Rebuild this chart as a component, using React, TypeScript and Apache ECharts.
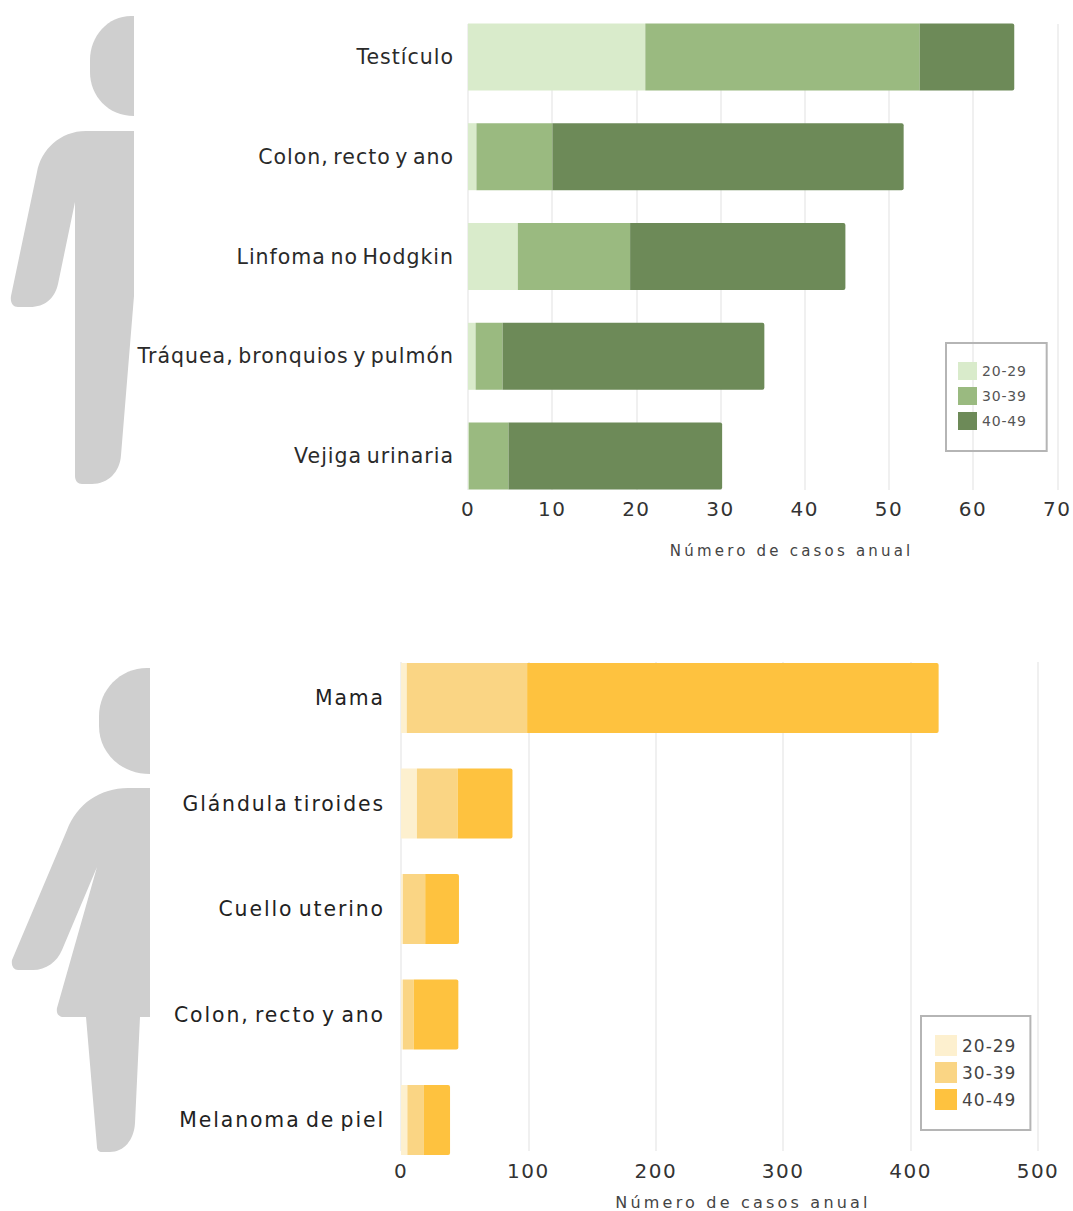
import React, { useEffect, useRef } from "react";
import * as echarts from "echarts";

const ageGroups = ["20-29", "30-39", "40-49"];

const menCategories = ["Testículo", "Colon, recto y ano", "Linfoma no Hodgkin", "Tráquea, bronquios y pulmón", "Vejiga urinaria"];
const men2029 = [21, 1, 5.9, 0.9, 0.1];
const men3039 = [32.5, 9, 13.3, 3.2, 4.7];
const men4049 = [11.2, 41.6, 25.5, 31, 25.3];
const menColors = ["#d9ebcb", "#9aba80", "#6d8a58"];

const womenCategories = ["Mama", "Glándula tiroides", "Cuello uterino", "Colon, recto y ano", "Melanoma de piel"];
const women2029 = [4.5, 12.5, 1.5, 1.5, 5];
const women3039 = [94.5, 32, 17.5, 8.5, 13];
const women4049 = [323, 43, 26.5, 35, 20.5];
const womenColors = ["#fdf0cf", "#fad584", "#fec23f"];

const axisTitle = "Número de casos anual";
const FONT = "'DejaVu Sans', sans-serif";
const GREY = "#cfcfcf";

const manHead = "M134 16 L131 16 C108 16 90 36 90 60 L90 72 C90 96 108 116 134 116 Z";
const manBody = "M134 131 L86 131 C60 131 41 150 37 172 L11 296 C10 303 13 307 18 307 L30 307 C45 307 55 298 58 284 L75 202 L75 476 C75 481 78 484 82 484 L92 484 C108 484 120 472 121 455 L134 296 Z";
const womanHead = "M150 668 L147 668 C120 668 99 690 99 716 L99 726 C99 752 120 774 150 774 Z";
const womanBody = "M150 788 L128 788 C100 788 77 804 67 830 L12 960 C11 966 14 970 18 970 L33 970 C46 970 57 962 62 950 L97 867 L57 1008 C56 1014 59 1017 64 1017 L86 1017 L97 1147 C97 1150 99 1152 102 1152 L110 1152 C124 1152 134 1140 135 1123 L140 1017 L150 1017 Z";

echarts.graphic.registerShape("manHead", echarts.graphic.extendPath(manHead, {}));
echarts.graphic.registerShape("manBody", echarts.graphic.extendPath(manBody, {}));
echarts.graphic.registerShape("womanHead", echarts.graphic.extendPath(womanHead, {}));
echarts.graphic.registerShape("womanBody", echarts.graphic.extendPath(womanBody, {}));

// The reference type is wider than any installed face, so each text role carries its own tracking.
const tracking = `
  text[style*="20.5px"] { letter-spacing: 1px; word-spacing: -3px; }
  text[style*="20.4px"] { letter-spacing: 1.9px; word-spacing: -3px; }
  text[style*="20px"] { letter-spacing: 1.5px; }
  text[style*="15px"], text[style*="16px"] { letter-spacing: 3.2px; }
  text[style*="14px"] { letter-spacing: 0.8px; }
  text[style*="17px"] { letter-spacing: 1px; }
`;

function stackSeries(name: string, stack: string, axisIndex: number, colors: string[], values: number[][]) {
  return values.map((data, i) => ({
    type: "bar",
    name: ageGroups[i],
    stack,
    xAxisIndex: axisIndex,
    yAxisIndex: axisIndex,
    barWidth: name === "men" ? 67 : 70,
    itemStyle: { color: colors[i], borderRadius: i === 2 ? [0, 2, 2, 0] : 0 },
    data,
  }));
}

function legendData(colors: string[]) {
  return ageGroups.map((name, i) => ({ name, icon: "rect", itemStyle: { color: colors[i] } }));
}

export default function App() {
  const ref = useRef<HTMLDivElement>(null);
  useEffect(() => {
    const chart = echarts.init(ref.current!, undefined, { renderer: "svg" });
    const valueAxis = { type: "value", axisLine: { show: false }, axisTick: { show: false } };
    const hiddenCat = { type: "category", show: false, inverse: true };
    chart.setOption({
      animation: false,
      backgroundColor: "#ffffff",
      textStyle: { fontFamily: FONT },
      grid: [
        { left: 468, right: 14, top: 7, height: 499 },
        { left: 401, right: 35, top: 645.25, height: 527.5 },
        { left: 468, right: 14, top: 24, height: 466 },
        { left: 401, right: 35, top: 662, height: 494 },
      ],
      xAxis: [
        { type: "value", gridIndex: 0, min: 0, max: 70, show: false },
        { type: "value", gridIndex: 1, min: 0, max: 500, show: false },
        {
          ...valueAxis, gridIndex: 2, min: 0, max: 70, interval: 10,
          splitLine: { show: true, lineStyle: { color: "#f0f0f0", width: 2 } },
          axisLabel: { color: "#333333", fontSize: 20, fontFamily: FONT, margin: 9 },
          name: axisTitle, nameLocation: "middle", nameGap: 53,
          nameTextStyle: { color: "#444444", fontSize: 15, fontFamily: FONT, padding: [0, 0, 0, 58] },
        },
        {
          ...valueAxis, gridIndex: 3, min: 0, max: 500, interval: 100,
          splitLine: { show: true, lineStyle: { color: "#f0f0f0", width: 2 } },
          axisLabel: { color: "#333333", fontSize: 20, fontFamily: FONT, margin: 10 },
          name: axisTitle, nameLocation: "middle", nameGap: 43,
          nameTextStyle: { color: "#444444", fontSize: 16, fontFamily: FONT, padding: [0, 0, 0, 47] },
        },
      ],
      yAxis: [
        {
          type: "category", gridIndex: 0, inverse: true, data: menCategories,
          axisLine: { show: false }, axisTick: { show: false },
          axisLabel: { color: "#2a2a2a", fontSize: 20.5, fontFamily: FONT, margin: 14, padding: [0, 0, 6, 0] },
        },
        {
          type: "category", gridIndex: 1, inverse: true, data: womenCategories,
          axisLine: { show: false }, axisTick: { show: false },
          axisLabel: { color: "#222222", fontSize: 20.4, fontFamily: FONT, margin: 16, padding: [0, 0, 6, 0] },
        },
        { ...hiddenCat, gridIndex: 2, data: menCategories },
        { ...hiddenCat, gridIndex: 3, data: womenCategories },
      ],
      legend: [
        {
          orient: "vertical", left: 946, top: 343,
          padding: [19, 24, 21, 12], itemWidth: 19, itemHeight: 18, itemGap: 7,
          borderColor: "#b5b5b5", borderWidth: 2, selectedMode: false,
          textStyle: { color: "#555555", fontSize: 14, fontFamily: FONT },
          data: legendData(menColors),
        },
        {
          orient: "vertical", left: 921, top: 1016,
          padding: [19, 19, 20, 14], itemWidth: 22, itemHeight: 21, itemGap: 6,
          borderColor: "#b5b5b5", borderWidth: 2, selectedMode: false,
          textStyle: { color: "#444444", fontSize: 17, fontFamily: FONT },
          data: legendData(womenColors),
        },
      ],
      series: [
        ...stackSeries("men", "men", 0, menColors, [men2029, men3039, men4049]),
        ...stackSeries("women", "women", 1, womenColors, [women2029, women3039, women4049]),
      ],
      graphic: [
        { type: "manHead", x: 0, y: 0, silent: true, style: { fill: GREY } },
        { type: "manBody", x: 0, y: 0, silent: true, style: { fill: GREY } },
        { type: "womanHead", x: 0, y: 0, silent: true, style: { fill: GREY } },
        { type: "womanBody", x: 0, y: 0, silent: true, style: { fill: GREY } },
      ],
    });
    return () => chart.dispose();
  }, []);
  return (
    <>
      <style>{tracking}</style>
      <div ref={ref} style={{ position: "absolute", left: 0, top: 0, width: 1073, height: 1211 }} />
    </>
  );
}
